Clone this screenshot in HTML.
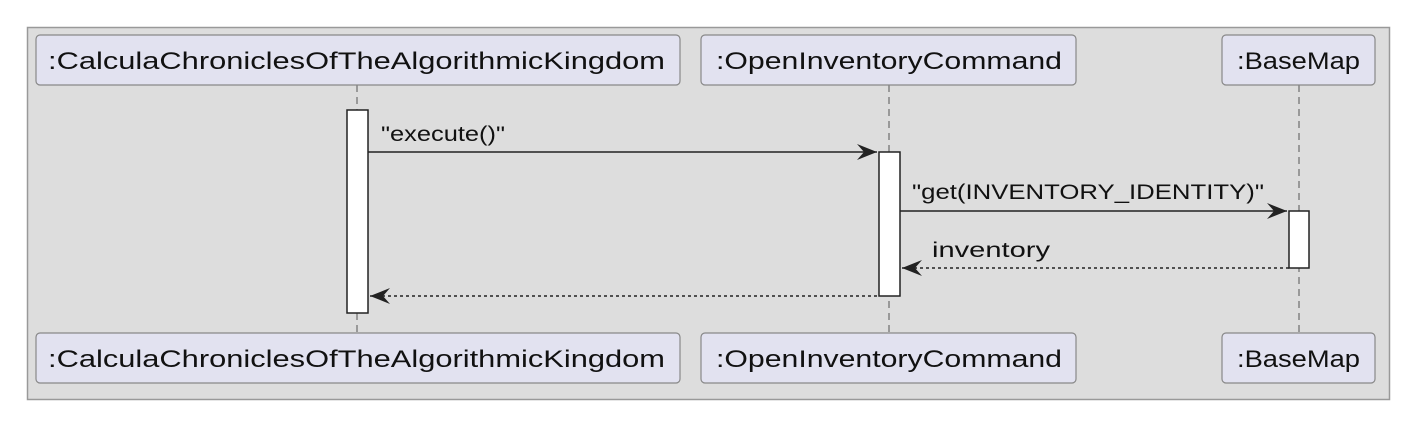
<!DOCTYPE html>
<html><head><style>body{margin:0;background:#fff}</style></head><body>
<svg width="1424" height="419" xmlns="http://www.w3.org/2000/svg" font-family="Liberation Sans, sans-serif" font-size="24">
<rect x="27.5" y="27.5" width="1362" height="372" fill="#dddddd" stroke="#999" stroke-width="1.5"/>
<g stroke="#555" stroke-dasharray="7,5" stroke-width="1">
<line x1="357" y1="85" x2="357" y2="333"/>
<line x1="889" y1="85" x2="889" y2="333"/>
<line x1="1299" y1="85" x2="1299" y2="333"/>
</g>
<g fill="#e2e2f0" stroke="#888" stroke-width="1.2">
<rect x="36" y="35" width="644" height="50" rx="4"/>
<rect x="701" y="35" width="375" height="50" rx="4"/>
<rect x="1222" y="35" width="153" height="50" rx="4"/>
<rect x="36" y="333" width="644" height="50" rx="4"/>
<rect x="701" y="333" width="375" height="50" rx="4"/>
<rect x="1222" y="333" width="153" height="50" rx="4"/>
</g>
<g fill="#111">
<text x="48" y="69" textLength="617" lengthAdjust="spacingAndGlyphs">:CalculaChroniclesOfTheAlgorithmicKingdom</text>
<text x="716" y="69" textLength="346" lengthAdjust="spacingAndGlyphs">:OpenInventoryCommand</text>
<text x="1237" y="69" textLength="123" lengthAdjust="spacingAndGlyphs">:BaseMap</text>
<text x="48" y="367" textLength="617" lengthAdjust="spacingAndGlyphs">:CalculaChroniclesOfTheAlgorithmicKingdom</text>
<text x="716" y="367" textLength="346" lengthAdjust="spacingAndGlyphs">:OpenInventoryCommand</text>
<text x="1237" y="367" textLength="123" lengthAdjust="spacingAndGlyphs">:BaseMap</text>
</g>
<g fill="#fff" stroke="#222" stroke-width="1.5">
<rect x="347" y="110" width="21" height="203"/>
<rect x="879" y="152" width="21" height="144"/>
<rect x="1289" y="211" width="20" height="57"/>
</g>
<g stroke="#222" stroke-width="1.5" fill="none">
<line x1="368" y1="152" x2="877" y2="152"/>
<line x1="900" y1="211" x2="1287" y2="211"/>
<line x1="902" y1="268" x2="1289" y2="268" stroke-dasharray="3,3"/>
<line x1="370" y1="296" x2="879" y2="296" stroke-dasharray="3,3"/>
</g>
<g fill="#222">
<path d="M877 152 L857 144 L864 152 L857 160 Z"/>
<path d="M1287 211 L1267 203 L1274 211 L1267 219 Z"/>
<path d="M902 268 L922 260 L915 268 L922 276 Z"/>
<path d="M370 296 L390 288 L383 296 L390 304 Z"/>
</g>
<g fill="#111" font-size="21">
<text x="381" y="141" textLength="124" lengthAdjust="spacingAndGlyphs">"execute()"</text>
<text x="912" y="199" textLength="352" lengthAdjust="spacingAndGlyphs">"get(INVENTORY_IDENTITY)"</text>
<text x="932" y="257" textLength="118" lengthAdjust="spacingAndGlyphs">inventory</text>
</g>
</svg>
</body></html>
